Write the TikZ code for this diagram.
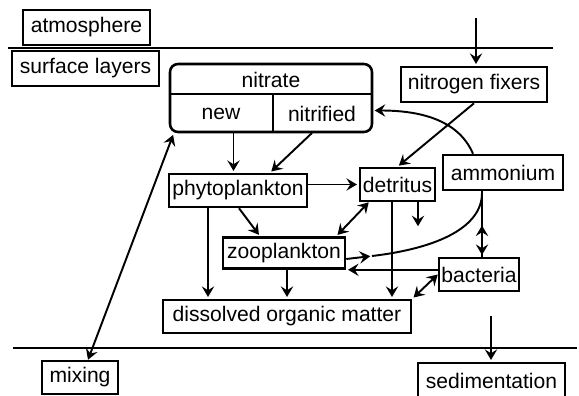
\documentclass[tikz,border=0pt]{standalone}
\usepackage{fontspec}
\setmainfont{Liberation Sans}
\usetikzlibrary{arrows.meta}
\usetikzlibrary{positioning}
\usetikzlibrary{calc}

\begin{document}
\begin{tikzpicture}[x=0.02cm,y=-0.02cm,->,>={Stealth[length=6pt,width=7pt,inset=2.2pt]},
	shorten >=1pt,line width=1.1pt]
	\tikzstyle{box}=[draw,line width=1.45pt,inner sep=0pt,font=\fontsize{12}{14}\selectfont]
	\tikzstyle{cell}=[inner sep=0pt,font=\fontsize{12}{14}\selectfont]
	\useasboundingbox (0,0) rectangle (579,396);
	
	% layers
	\draw[-] (8,48) -- (555,48);
	\draw[-] (13,348) -- (579,348);
	
	\node[box,minimum width=2.54cm,minimum height=0.70cm] (atm)       at (86.5,27.5)  {atmosphere};
	\node[box,minimum width=2.94cm,minimum height=0.70cm] (surf)      at (85.5,68.5)  {surface layers};
	\node[box,rounded corners=0.16cm,minimum width=4.04cm,minimum height=1.36cm] (nitrate) at (271,98) {};
	\node[cell]                                           (nitratelbl) at (271,80)    {nitrate};
	\node[cell,minimum width=2.04cm,minimum height=0.74cm] (new)      at (221,113.5)  {new};
	\node[cell,minimum width=2.00cm,minimum height=0.74cm] (nitrified) at (322,113.5) {nitrified};
	\node[box,minimum width=2.92cm,minimum height=0.70cm] (nfix)      at (474,84.5)   {nitrogen fixers};
	\node[box,minimum width=2.40cm,minimum height=0.70cm] (ammonium)  at (503,172.5)  {ammonium};
	\node[box,minimum width=1.50cm,minimum height=0.66cm] (detritus)  at (397.5,184.5) {detritus};
	\node[box,minimum width=2.76cm,minimum height=0.66cm] (phyto)     at (238,190.5)  {phytoplankton};
	\node[box,minimum width=2.44cm,minimum height=0.62cm] (zoo)       at (284,253)    {zooplankton};
	\node[box,minimum width=1.60cm,minimum height=0.66cm] (bacteria)  at (479,274.5)  {bacteria};
	\node[box,minimum width=4.96cm,minimum height=0.66cm] (dom)       at (287,316.5)  {dissolved organic matter};
	\node[box,minimum width=1.52cm,minimum height=0.66cm] (mixing)    at (80,377.5)   {mixing};
	\node[box,minimum width=2.94cm,minimum height=0.70cm] (sed)       at (491.5,380.5) {sedimentation};
	
	% nitrate cells
	\draw[-] (nitrate.west |- new.north) -- (nitrate.east |- new.north);
	\draw[-] (new.north east) -- (new.south east);
	
	% nitrogen in
	\coordinate (fixin) at (476,18);
	\draw (fixin) -- (fixin |- nfix.north);
	\draw (nfix.south) -- (detritus.north);
	\draw ([xshift=-0.6cm]ammonium.north) .. controls +(-15,-35) and +(45,0) .. ([yshift=0.06cm]nitrified.east);
	\draw[<->] ([xshift=0.16cm]mixing.north) -- ([xshift=0.1cm]nitrate.south west);
	
	% phytoplankton
	\draw ([xshift=0.25cm]new.south) -- ([xshift=0.25cm]new.south |- phyto.north);
	\draw ([xshift=-0.2cm]nitrified.south) -- ([xshift=0.64cm]phyto.north);
	\draw (phyto.east |- detritus.west) -- (detritus.west);
	\draw ([xshift=0.02cm]phyto.south) -- ([xshift=-0.48cm]zoo.north);
	\draw ([xshift=-0.6cm]phyto.south) -- ([xshift=-0.6cm]phyto.south |- dom.north);
	
	% detritus
	\draw[<->] ([xshift=0.2cm]detritus.south west) -- ([xshift=-0.2cm]zoo.north east);
	\coordinate (sink) at (418,228);
	\draw (sink |- detritus.south) -- (sink);
	\draw ([xshift=-0.11cm]detritus.south) -- ([xshift=-0.11cm]detritus.south |- dom.north);
	\draw ([xshift=0.06cm]zoo.south) -- ([xshift=0.06cm]zoo.south |- dom.north);
	
	% ammonium, bacteria
	\coordinate (amout) at ([xshift=-0.42cm]ammonium.south);
	\draw (amout) -- (amout |- bacteria.north);
	\draw (amout |- bacteria.north) -- ++(0,-33);
	\coordinate (zmid) at (372,256);
	\draw ([yshift=-0.12cm]zoo.east) -- (zmid);
	\draw[-] (zmid) .. controls (440,248) and +(0,35) .. (amout);
	\draw (bacteria.west |- zoo.south) -- (zoo.south east);
	\draw[<->] (bacteria.west) -- (dom.north east);
	
	% sedimentation
	\coordinate (sedin) at (491,316);
	\draw (sedin) -- (sedin |- sed.north);
\end{tikzpicture}
\end{document}
